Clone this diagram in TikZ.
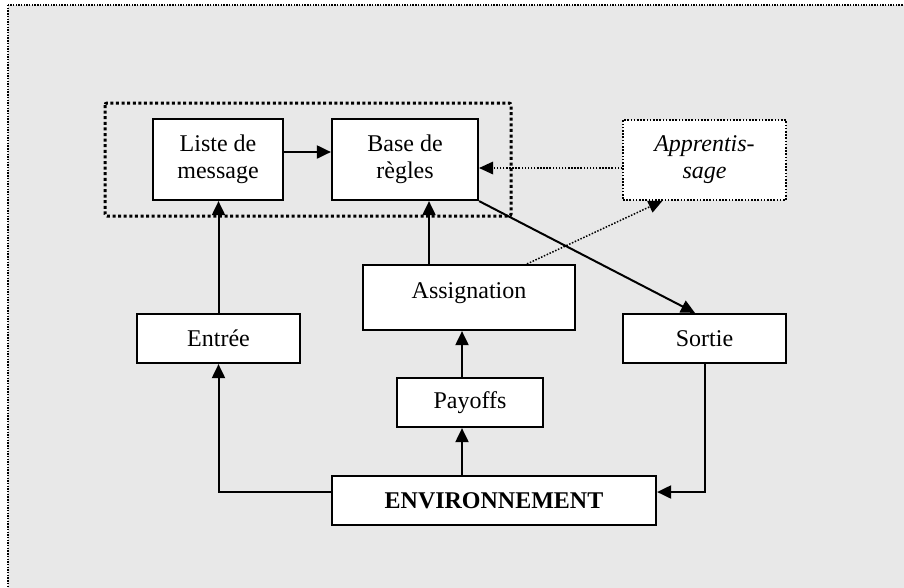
\documentclass[tikz,border=0pt]{standalone}
\usepackage{fontspec}
\setmainfont{Liberation Serif}
\usetikzlibrary{arrows.meta}
\definecolor{panel}{HTML}{E8E8E8}
\begin{document}
\begin{tikzpicture}[x=1pt,y=-1pt,
  box/.style={draw, line width=2.2pt, fill=white, inner sep=0pt, align=center,
    font=\fontsize{24}{27}\selectfont},
  softbox/.style={box, line width=1.6pt, dash pattern=on 1.6pt off 1.6pt},
  arr/.style={line width=2pt, -{Triangle[length=14pt,width=13pt]}},
  dotarr/.style={line width=1.5pt, dash pattern=on 1.5pt off 1.6pt,
    -{Triangle[length=14pt,width=13pt,line width=0pt,fill=black]}},
  groupframe/.style={line width=3pt, dash pattern=on 3pt off 2.6pt, rounded corners=2pt},
  panelframe/.style={fill=panel, draw=black, line width=1.4pt, dash pattern=on 1.4pt off 1.3pt}
]
\clip (0,0) rectangle (904,587);
\fill[white] (0,0) rectangle (904,587);
\draw[panelframe] (8,5) rectangle (920,600);

% message list and rule base, grouped by the thick dotted frame
\node[box, minimum width=130, minimum height=81] (liste) at (218,159.5) {Liste de\\message};
\node[box, minimum width=146, minimum height=81] (base) at (405,159.5) {Base de\\règles};
\draw[groupframe] (105,103) rectangle (511,216);

\node[softbox, minimum width=163, minimum height=80] (app) at (704.5,160) {\textit{Apprentis-}\\\textit{sage}};

\node[box, minimum width=212, minimum height=65] (assig) at (469,297.5) {\raisebox{14pt}{Assignation}};
\node[box, minimum width=163, minimum height=49] (entree) at (218.5,338.5) {Entrée};
\node[box, minimum width=163, minimum height=49] (sortie) at (704.5,338.5) {Sortie};
\node[box, minimum width=146, minimum height=49] (payoffs) at (470,402.5) {Payoffs};
\node[box, minimum width=324, minimum height=49, font=\fontsize{24}{27}\selectfont\bfseries] (env) at (494,500.5) {ENVIRONNEMENT};

% connectors
\draw[arr] ([yshift=7.5pt]liste.east) -- ([yshift=7.5pt]base.west);
\draw[dotarr] ([yshift=-8pt]app.west) -- ([yshift=-8pt]app.west -| base.east);
\draw[arr] (base.south east) -- ([xshift=-9.5pt]sortie.north);
\draw[arr] (entree.north) -- (entree.north |- liste.south);

\coordinate (ab) at ([xshift=-40pt]assig.north);
\draw[arr] (ab) -- (ab |- base.south);
\coordinate (aa) at ([xshift=58pt]assig.north);
\draw[dotarr] (aa) -- ([xshift=-42pt]app.south);

\coordinate (pa) at ([xshift=-8pt]payoffs.north);
\draw[arr] (pa) -- (pa |- assig.south);
\coordinate (ep) at ([xshift=-32pt]env.north);
\draw[arr] (ep) -- (ep |- payoffs.south);

\draw[arr] ([yshift=8.5pt]env.west) -| (entree.south);
\draw[arr] (sortie.south) |- ([yshift=8.5pt]env.east);
\end{tikzpicture}
\end{document}
